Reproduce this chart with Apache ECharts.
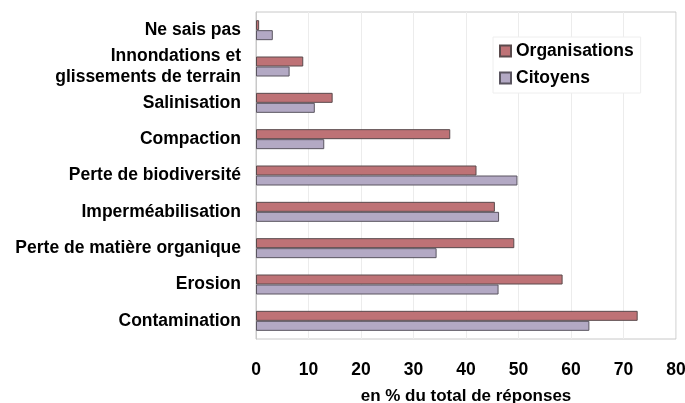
<!DOCTYPE html>
<html>
<head>
<meta charset="utf-8">
<script src="https://cdn.jsdelivr.net/npm/echarts@6/dist/echarts.min.js"></script>
<style>
  html, body { margin: 0; padding: 0; background: #fff; }
  #chart { width: 685px; height: 403px; }
</style>
</head>
<body>
<div id="chart"></div>
<script>
// categories, bottom to top (category axis starts at the bottom)
var categories = ['Contamination', 'Erosion', 'Perte de matière organique', 'Imperméabilisation',
  'Perte de biodiversité', 'Compaction', 'Salinisation',
  'Innondations et\nglissements de terrain', 'Ne sais pas'];
var organisations = [72.7, 58.4, 49.2, 45.5, 42.0, 37.0, 14.6, 9.0, 0.6];
var citoyens = [63.5, 46.2, 34.4, 46.3, 49.8, 13.0, 11.2, 6.4, 3.2];
var xTicks = [0, 10, 20, 30, 40, 50, 60, 70, 80];

var chart = echarts.init(document.getElementById('chart'));
var font = 'Liberation Sans, Arial, sans-serif';

var option = {
  backgroundColor: '#fff',
  animation: false,
  grid: {
    left: 256, right: 9, top: 12, bottom: 64,
    containLabel: false,
    outerBoundsMode: 'none',
    show: true, borderColor: '#c8c8c8', borderWidth: 1
  },
  legend: {
    orient: 'vertical',
    left: 493, top: 37,
    icon: 'rect',
    itemWidth: 11, itemHeight: 11, itemGap: 9,
    padding: [5, 7, 6, 6],
    backgroundColor: '#fff',
    borderColor: '#eeeeee', borderWidth: 1,
    textStyle: { fontFamily: font, fontWeight: 'bold', fontSize: 17.5, color: '#000' },
    data: ['Organisations', 'Citoyens']
  },
  xAxis: {
    type: 'value',
    min: 0, max: 80, interval: 10,
    name: 'en % du total de réponses',
    nameLocation: 'middle', nameGap: 49,
    nameTextStyle: { fontFamily: font, fontWeight: 'bold', fontSize: 17, color: '#000' },
    axisLine: { show: false },
    axisTick: { show: false },
    axisLabel: {
      margin: 22, fontFamily: font, fontWeight: 'bold', fontSize: 17.5, color: '#000',
      formatter: function (v) { return xTicks.indexOf(v) >= 0 ? String(v) : ''; }
    },
    splitLine: { lineStyle: { color: '#ececec' } }
  },
  yAxis: {
    type: 'category',
    data: categories,
    axisLine: { lineStyle: { color: '#c8c8c8' } },
    axisTick: { lineStyle: { color: '#c8c8c8' }, length: 4 },
    axisLabel: {
      margin: 15, fontFamily: font, fontWeight: 'bold', fontSize: 17.5, color: '#000',
      lineHeight: 21, align: 'right'
    }
  },
  series: [
    {
      name: 'Organisations', type: 'bar', data: organisations, barWidth: 10, barGap: '0%',
      itemStyle: { color: '#be7276', borderColor: '#5a4a4c', borderWidth: 1 },
      z: 2
    },
    {
      name: 'Citoyens', type: 'bar', data: citoyens, barWidth: 10, barGap: '0%',
      itemStyle: { color: '#b3a9c4', borderColor: '#5a5560', borderWidth: 1 },
      z: 2
    }
  ]
};

chart.setOption(option);
</script>
</body>
</html>
